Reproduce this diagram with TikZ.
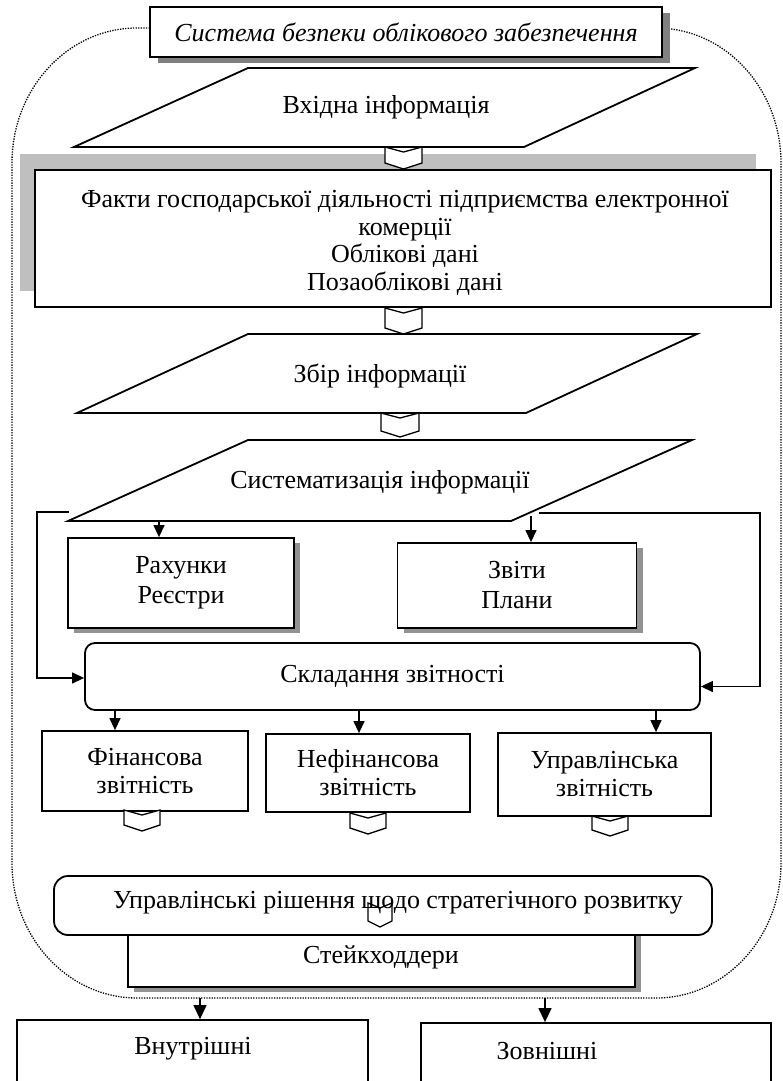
\documentclass[tikz,border=0pt]{standalone}
\usepackage{fontspec}
\setmainfont{Liberation Serif}
\usetikzlibrary{arrows.meta,shadows}
\newcommand\mychev[5][white]{%
  \draw[chevst,fill=#1] (#2,#4) -- ({(#2+#3)/2},{#4+5}) -- (#3,#4) -- (#3,{#5-6}) -- ({(#2+#3)/2},#5) -- (#2,{#5-6}) -- cycle;}
\begin{document}
\begin{tikzpicture}[x=1pt,y=-1pt,
  font=\fontsize{26}{28}\selectfont,
  bx/.style={draw,line width=1.8pt,fill=white,inner sep=0pt,align=center},
  rbx/.style={bx,rounded corners=10pt},
  shd/.style={drop shadow={shadow xshift=6pt,shadow yshift=-5pt,fill=gray!85,opacity=1}},
  pline/.style={draw,line width=1.8pt,fill=white,line join=miter},
  chevst/.style={line width=1.3pt,line join=miter},
  conn/.style={line width=1.3pt,-{Triangle[length=12pt,width=11pt]}},
  bigconn/.style={line width=1.3pt,-{Triangle[length=14pt,width=13pt]}},
  txt/.style={inner sep=0pt,align=center},
  frame/.style={line width=1.3pt,dash pattern=on 1.3pt off 1.3pt}
]
\clip (0,0) rectangle (783,1081);
\useasboundingbox (0,0) rectangle (783,1081);

% dotted frame
\draw[frame] (12,163) .. controls (12,88.5) and (68,28) .. (137,28) -- (656,28)
  .. controls (725,28) and (781,88.5) .. (781,163) -- (781,863)
  .. controls (781,937.5) and (725,998) .. (656,998) -- (137,998)
  .. controls (68,998) and (12,937.5) .. (12,863) -- cycle;

% title
\node[bx,minimum width=512pt,minimum height=50pt,
  drop shadow={shadow xshift=8pt,shadow yshift=-6pt,fill=gray,opacity=1},
  font=\fontsize{26}{28}\selectfont\itshape] (title) at (406,32) {Система безпеки облікового забезпечення};

% input parallelogram
\draw[pline] (248,68) coordinate (p1a) -- (695,68) coordinate (p1b) -- (524,147) coordinate (p1c) -- (74,147) coordinate (p1d) -- cycle;
\node[txt] (p1) at (386,107) {Вхідна інформація};

% facts box with light-grey offset shadow
\node[bx,minimum width=736pt,minimum height=137pt,
  drop shadow={shadow xshift=-15pt,shadow yshift=16pt,fill=gray!50,opacity=1}] (big) at (403,238.5) {};
\node[txt,font=\fontsize{26}{27.5}\selectfont] (bigt) at (405,243) {Факти господарської діяльності підприємства електронної\\комерції\\Облікові дані\\Позаоблікові дані};
\mychev{385}{422}{147}{169}

% collect
\mychev{385}{422}{308}{334}
\draw[pline] (248,334) coordinate (p2a) -- (697,334) coordinate (p2b) -- (526,413) coordinate (p2c) -- (77,413) coordinate (p2d) -- cycle;
\node[txt] (p2) at (380,376) {Збір інформації};
\mychev{381}{419}{413}{437}

% systematisation
\draw[pline] (248,440) coordinate (p3a) -- (692,440) coordinate (p3b) -- (511,521) coordinate (p3c) -- (68,521) coordinate (p3d) -- cycle;
\node[txt] (p3) at (380,482) {Систематизація інформації};
\coordinate (s3a) at (159,521);
\coordinate (s3b) at (531,516);
\coordinate (s3l) at (69,512);
\coordinate (s3r) at (539,513);

% accounts / reports
\node[bx,shd,minimum width=226pt,minimum height=90pt] (rah) at (181,583) {Рахунки\\[2pt]Реєстри};
\node[bx,shd,minimum width=239pt,minimum height=85pt] (zv) at (517,585.5) {Звіти\\[2pt]Плани};
\draw[conn] (s3a) -- (rah.north -| s3a);
\draw[conn] (s3b) -- (zv.north -| s3b);

% reporting
\node[rbx,minimum width=615pt,minimum height=67pt] (sk) at (392.5,676.5) {Складання звітності};
\draw[conn] (s3l) -- (37,512) |- ([yshift=-1.5pt]sk.west);
\draw[conn] (s3r) -- (760,513) |- ([yshift=-10pt]sk.east);

% three reports
\node[bx,minimum width=206pt,minimum height=80pt] (fin) at (145,771) {Фінансова\\звітність};
\node[bx,minimum width=204pt,minimum height=78pt] (nef) at (368,773) {Нефінансова\\звітність};
\node[bx,minimum width=213pt,minimum height=83pt] (upr) at (604.5,774.5) {Управлінська\\звітність};
\draw[conn] (115,0 |- sk.south) -- (115,0 |- fin.north);
\draw[conn] (359,0 |- sk.south) -- (359,0 |- nef.north);
\draw[conn] (656,0 |- sk.south) -- (656,0 |- upr.north);
\mychev{124}{160}{810}{831}
\mychev{350}{386}{813}{834}
\mychev{592}{628}{816}{836}

% stakeholders and decisions
\node[bx,shd,minimum width=507pt,minimum height=72pt] (stk) at (381.5,951) {};
\node[txt] (stkt) at (381,957) {Стейкходдери};
\node[rbx,rounded corners=14pt,minimum width=658pt,minimum height=59pt] (dec) at (383,905.5) {};
\node[txt] (dect) at (398,903) {Управлінські рішення щодо стратегічного розвитку};
\mychev[none]{368}{392}{903}{927}

% internal / external
\coordinate (fb1) at (200,998);
\coordinate (fb2) at (545,998);
\node[bx,minimum width=351pt,minimum height=80pt] (vn) at (192.5,1060) {};
\node[bx,minimum width=350pt,minimum height=77pt] (zn) at (596,1061.5) {};
\node[txt] (vnt) at (193,1049) {Внутрішні};
\node[txt] (znt) at (547,1051) {Зовнішні};
\draw[bigconn] (fb1) -- (vn.north -| fb1);
\draw[bigconn] (fb2) -- (zn.north -| fb2);
\end{tikzpicture}
\end{document}
